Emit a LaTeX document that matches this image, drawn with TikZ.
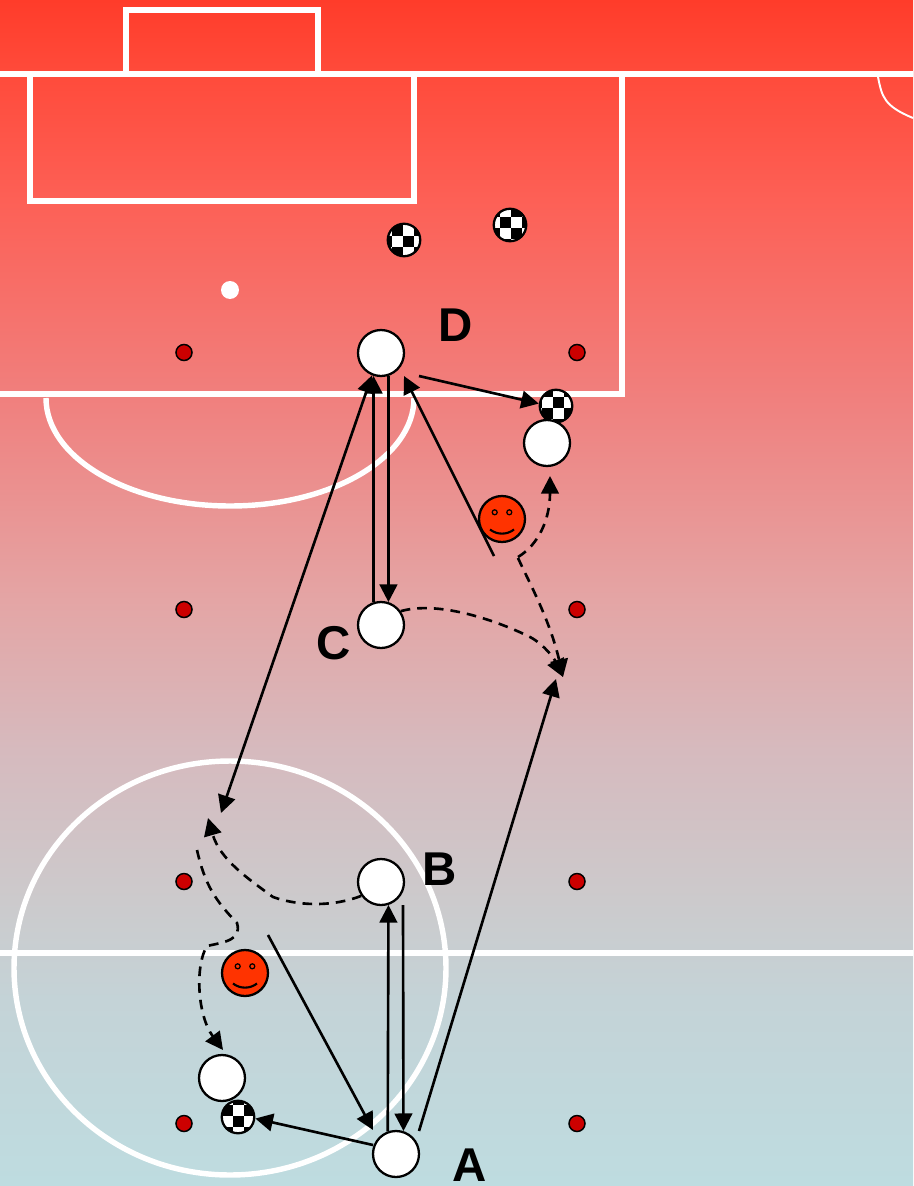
\documentclass[tikz,border=0pt]{standalone}
\usepackage{xcolor}
\usepackage{fontspec}
\setmainfont{Liberation Sans}
\usetikzlibrary{arrows.meta, positioning, calc}
\definecolor{pitchA}{RGB}{255,60,42}
\definecolor{pitchB}{RGB}{255,74,58}
\definecolor{pitchC}{RGB}{253,96,86}
\definecolor{pitchD}{RGB}{240,128,126}
\definecolor{pitchE}{RGB}{228,165,165}
\definecolor{pitchF}{RGB}{214,186,190}
\definecolor{pitchG}{RGB}{204,202,204}
\definecolor{pitchH}{RGB}{196,211,215}
\definecolor{pitchI}{RGB}{190,220,224}
\definecolor{conered}{RGB}{204,0,0}
\definecolor{facered}{RGB}{255,51,0}
\pgfdeclareverticalshading{pitch}{100bp}{
    color(0bp)=(pitchI); color(25bp)=(pitchI); color(32.84bp)=(pitchH);
    color(37.06bp)=(pitchG); color(43.38bp)=(pitchF); color(49.7bp)=(pitchE);
    color(58.14bp)=(pitchD); color(66.57bp)=(pitchC); color(72.05bp)=(pitchB);
    color(75bp)=(pitchA); color(100bp)=(pitchA)}

\begin{document}
\begin{tikzpicture}[x=0.02cm, y=-0.02cm,
    markline/.style={draw=white, line width=3.1pt},
    thinline/.style={draw=white, line width=1.1pt},
    cone/.style={circle, draw, line width=0.85pt, fill=conered, minimum size=0.32cm, inner sep=0pt},
    player/.style={circle, draw, line width=1.3pt, fill=white, minimum size=0.92cm, inner sep=0pt},
    face/.style={circle, draw, line width=1.3pt, fill=facered, minimum size=0.92cm, inner sep=0pt,
        path picture={
            \coordinate (fc) at (path picture bounding box.center);
            \draw[line width=0.7pt] ($(fc)+(-0.146cm,0.134cm)$) circle (0.05cm);
            \draw[line width=0.7pt] ($(fc)+(0.146cm,0.134cm)$) circle (0.05cm);
            \draw[line width=1.2pt] ($(fc)+(-0.24cm,-0.21cm)$)
                .. controls ($(fc)+(-0.1cm,-0.32cm)$) and ($(fc)+(0.1cm,-0.32cm)$) .. ($(fc)+(0.24cm,-0.21cm)$);
        }},
    ball/.style 2 args={circle, draw, line width=1.3pt, fill=white, minimum size=0.65cm, inner sep=0pt,
        path picture={
            \coordinate (bc) at (path picture bounding box.center);
            \foreach \i in {-3,...,3}
                \foreach \j in {-3,...,3} {
                    \pgfmathparse{int(mod(\i+\j+6,2))}
                    \ifnum\pgfmathresult=0
                        \fill[black] ($(bc)+({(#1+\i*11-5.5)*0.02cm},{(-(#2)+\j*11-5.5)*0.02cm})$)
                            rectangle +(0.22cm,0.22cm);
                    \fi
                }
        }},
    lbl/.style={font=\fontsize{27pt}{27pt}\selectfont\bfseries, inner sep=0pt},
    pass/.style={-{Triangle[length=10pt, width=10pt]}, line width=1.5pt},
    twoway/.style={{Triangle[length=10pt, width=10pt]}-{Triangle[length=10pt, width=10pt]}, line width=1.5pt},
    run/.style={-{Triangle[length=10pt, width=10pt]}, line width=1.5pt, dash pattern=on 5.5pt off 4pt}]

\useasboundingbox (0,0) rectangle (913,1186);

%% Pitch background
\shade[shading=pitch] (0,0) rectangle (913,1186);

%% Markings
\draw[markline] (126,74) -- (126,10) -- (318,10) -- (318,74);
\draw[markline] (0,74) -- (913,74);
\draw[markline] (30,74) -- (30,201) -- (414,201) -- (414,74);
\draw[markline] (0,394) -- (622,394) -- (622,74);
\draw[markline] (46,398) arc[start angle=180, end angle=360, x radius=184, y radius=-108];
\draw[markline] (0,953) -- (913,953);
\draw[markline] (230,968) ellipse[x radius=216, y radius=-207];
\draw[thinline] (878,77) .. controls (882,97) and (884,106) .. (913,118);
\node[circle, fill=white, minimum size=0.36cm, inner sep=0pt] (spot) at (230,290) {};

%% Cones
\foreach \cname/\cy in {one/352.5, two/609.5, three/881.5, four/1123.5} {
    \node[cone] (coneL\cname) at (184,\cy) {};
    \node[cone] (coneR\cname) at (577,\cy) {};
}

%% Balls
\node[ball={4}{1}]    (ballA) at (404,240) {};
\node[ball={-5}{-3}]  (ballB) at (510,225) {};
\node[ball={2}{-4}]   (ballC) at (556,406) {};
\node[ball={0}{4}]    (ballD) at (238,1117) {};

%% Players
\node[player] (pD) at (381,353) {};
\node[player] (pC) at (381,625) {};
\node[player] (pB) at (381,882) {};
\node[player] (pA) at (396,1154) {};
\node[player] (pTop) at (547,443) {};
\node[player] (pLow) at (222,1078) {};

\node[face] (faceTop) at (502,519) {};
\node[face] (faceLow) at (245,973) {};

%% Labels
\node[lbl] (lD) at (456,325) {D};
\node[lbl] (lC) at (334,643) {C};
\node[lbl] (lB) at (440,869) {B};
\node[lbl] (lA) at (470,1165) {A};

%% Free ends
\coordinate (wide) at (221,813);
\coordinate (lay) at (494,556);
\coordinate (layend) at (404,376);
\coordinate (lowlay) at (268,935);
\coordinate (lowend) at (373,1130);
\coordinate (meet) at (556,679);
\coordinate (shotD) at (419,376);
\coordinate (longA) at (419,1131);
\coordinate (backB) at (403,905);
\coordinate (shotA) at (373,1145);

%% Passes
\draw[pass] (pD.-72) -- (pC.72);
\draw[pass] (pC.108) -- (pD.-108);
\draw[twoway] (pD.-112) -- (wide);
\draw[pass] (lay) -- (layend);
\draw[pass] (shotD) -- (ballC.172);
\draw[pass] (longA) -- (meet);
\draw[pass] (pA.110) -- (pB.-72);
\draw[pass] (backB) -- (pA.72);
\draw[pass] (lowlay) -- (lowend);
\draw[pass] (shotA) -- (ballD.-5);

%% Runs
\draw[run] (pC.35) .. controls (440,600) and (500,622) .. (530,637)
    .. controls (545,645) and (555,660) .. (563,677);
\draw[run] (518,558) .. controls (528,580) and (550,620) .. (563,677);
\draw[run] (518,557) .. controls (538,545) and (550,520) .. (550,476);
\draw[run] (pB.-145) .. controls (330,908) and (295,905) .. (273,897)
    .. controls (250,880) and (220,860) .. (208,818);
\draw[run] (197,850) .. controls (205,885) and (215,900) .. (237,923)
    .. controls (242,940) and (225,942) .. (207,946)
    .. controls (195,965) and (197,1015) .. (223,1050);

\end{tikzpicture}
\end{document}
